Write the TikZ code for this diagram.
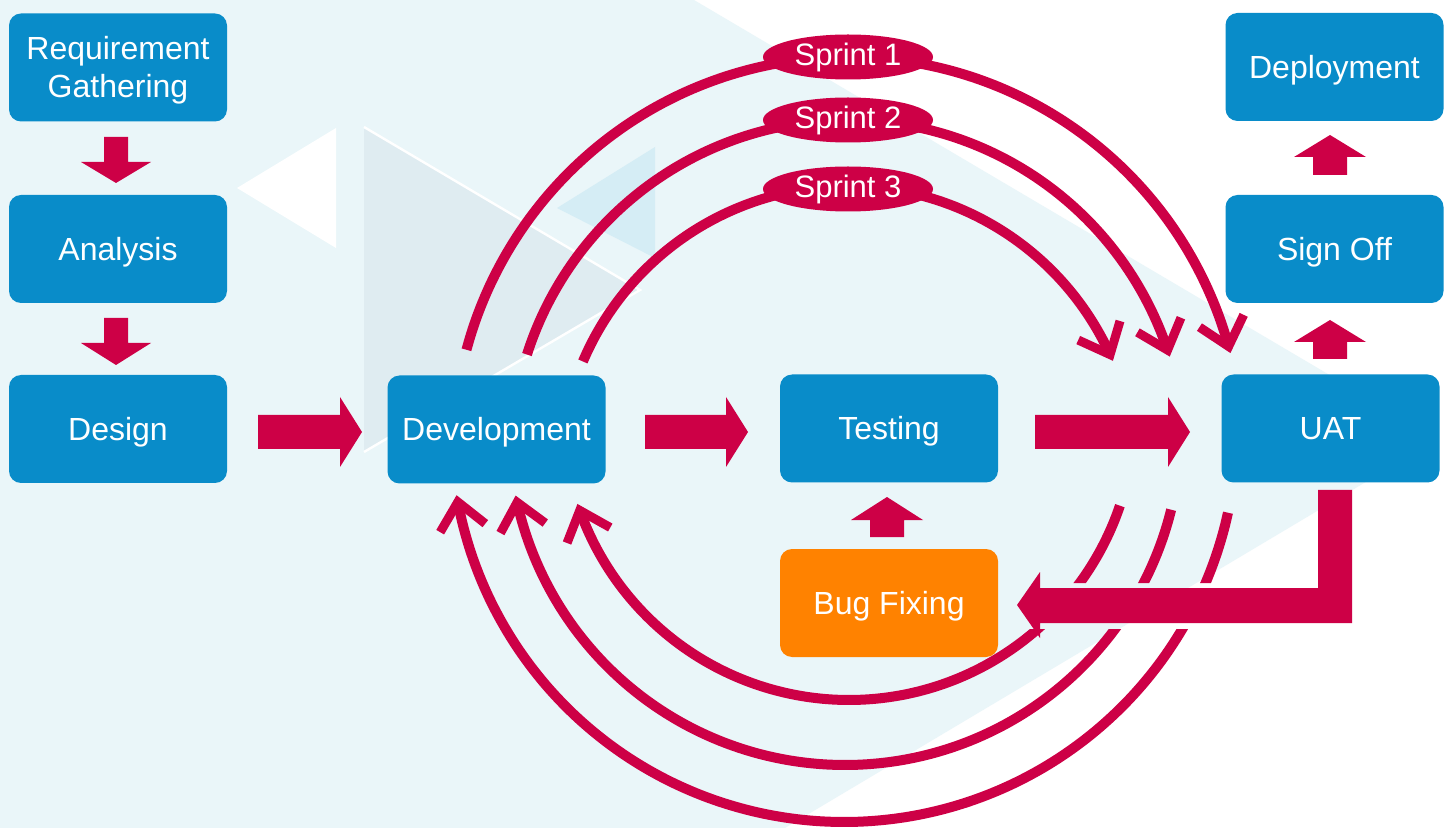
\documentclass[tikz,border=0pt]{standalone}
\usepackage{fontspec}
\setmainfont{Liberation Sans}
\usetikzlibrary{arrows.meta,shapes.geometric}
\definecolor{bgblue}{RGB}{234,246,249}
\definecolor{tribg}{RGB}{223,236,241}
\definecolor{trilb}{RGB}{213,237,245}
\definecolor{boxblue}{RGB}{9,140,201}
\definecolor{crim}{RGB}{205,0,70}
\definecolor{orng}{RGB}{255,130,0}
\newcommand{\blkH}[6]{\fill[crim] (#1,{#4-#5}) -- (#2,{#4-#5}) -- (#2,{#4-#6}) -- (#3,#4) -- (#2,{#4+#6}) -- (#2,{#4+#5}) -- (#1,{#4+#5}) -- cycle;}
\newcommand{\blkV}[6]{\fill[crim] ({#1-#5},#2) -- ({#1-#5},#3) -- ({#1-#6},#3) -- (#1,#4) -- ({#1+#6},#3) -- ({#1+#5},#3) -- ({#1+#5},#2) -- cycle;}
% circular arc: centre (#1,#2), radius #3, from angle #4 to #5
\newcommand{\arcseg}[5]{\draw[arcline] plot[domain=#4:#5, samples=90, smooth] ({#1+#3*cos(\x)},{#2+#3*sin(\x)});}
% open chevron head at the end (angle #4) of such an arc
\newcommand{\chevron}[4]{\draw[chev] ({#1+#3*cos(#4)+35*cos(#4-49)},{#2+#3*sin(#4)+35*sin(#4-49)}) -- ({#1+#3*cos(#4)},{#2+#3*sin(#4)}) -- ({#1+#3*cos(#4)+35*cos(#4-131)},{#2+#3*sin(#4)+35*sin(#4-131)});}
% text line whose box is exactly the cap height (centres capitals in a box)
\newcommand{\capbox}[1]{\raisebox{0pt}[11.5pt][0pt]{#1}}
\begin{document}
\begin{tikzpicture}[x=0.5pt,y=-0.5pt,
  box/.style={fill=boxblue, rounded corners=6pt, minimum width=109pt, minimum height=54pt,
    text=white, align=center, inner sep=0pt, font=\fontsize{16}{19}\selectfont},
  sprintlbl/.style={ellipse, fill=crim, minimum width=85pt, minimum height=22.5pt, inner sep=0pt,
    text=white, font=\fontsize{15.5}{17}\selectfont},
  arcline/.style={draw=crim, line width=5pt},
  chev/.style={draw=crim, line width=4.5pt, miter limit=10}]
\useasboundingbox (0,0) rectangle (1451,828);
% background
\fill[white] (0,0) rectangle (1451,828);
\fill[bgblue] (0,0) -- (694,0) -- (1438,439) -- (785,828) -- (0,828) -- cycle;
\fill[white] (237,188) -- (336,128) -- (336,248) -- cycle;
\fill[tribg] (364,127) -- (640,290) -- (364,452) -- cycle;
\draw[white, line width=1.2pt] (364,127) -- (640,290) -- (364,452);
\fill[trilb] (557,208) -- (655,147) -- (655,258) -- cycle;

% top sprint arcs
\arcseg{848}{452}{395}{195}{344}
\chevron{848}{452}{395}{344.5}
\arcseg{848}{457}{337}{197.7}{341}
\chevron{848}{457}{337}{341.5}
\arcseg{848}{474}{288}{203}{335}
\chevron{848}{474}{288}{335.5}

% bottom return arcs (gap around the UAT -> Bug Fixing arrow)
\begin{scope}
\clip (0,0) rectangle (1451,583) (0,583) rectangle (1000,629) (0,629) rectangle (1451,828);
\arcseg{844}{429}{393}{12.3}{169}
\arcseg{845}{429}{336}{13.9}{167}
\arcseg{849}{414}{286}{18.7}{160}
\end{scope}
\chevron{844}{429}{393}{169.3}
\chevron{845}{429}{336}{167.4}
\chevron{849}{414}{286}{160.3}

% sprint labels
\node[sprintlbl] (s1) at (848,57) {Sprint 1};
\node[sprintlbl] (s2) at (848,120) {Sprint 2};
\node[sprintlbl] (s3) at (848,189) {Sprint 3};

% boxes
\node[box] (req) at (118,67.5) {\capbox{Requirement}\\\capbox{Gathering}};
\node[box] (ana) at (118,249) {\capbox{Analysis}};
\node[box] (des) at (118,429) {\capbox{Design}};
\node[box] (dev) at (496.5,429.5) {\capbox{Development}};
\node[box] (tst) at (889,428.5) {\capbox{Testing}};
\node[box, fill=orng] (bug) at (889,603) {\capbox{Bug Fixing}};
\node[box] (uat) at (1330.5,428.5) {\capbox{UAT}};
\node[box] (sign) at (1334.5,249) {\capbox{Sign Off}};
\node[box] (dep) at (1334.5,67) {\capbox{Deployment}};

% block arrows
\blkV{116}{137}{162}{183}{12}{35}
\blkV{116}{318}{343}{365}{12}{35}
\blkH{258}{340}{362}{432}{17}{35}
\blkH{645}{726}{748}{432}{17}{35}
\blkH{1035}{1168}{1190}{432}{17}{35}
\blkV{1330}{175}{157}{135}{17}{36}
\blkV{1330}{359}{342}{320}{17}{36}
\blkV{887}{537}{520}{497}{17}{36}
\fill[crim] (1318,490) -- (1352,490) -- (1352,623) -- (1040,623) -- (1040,638) -- (1017,605)
  -- (1040,572) -- (1040,588) -- (1318,588) -- cycle;
\end{tikzpicture}
\end{document}
